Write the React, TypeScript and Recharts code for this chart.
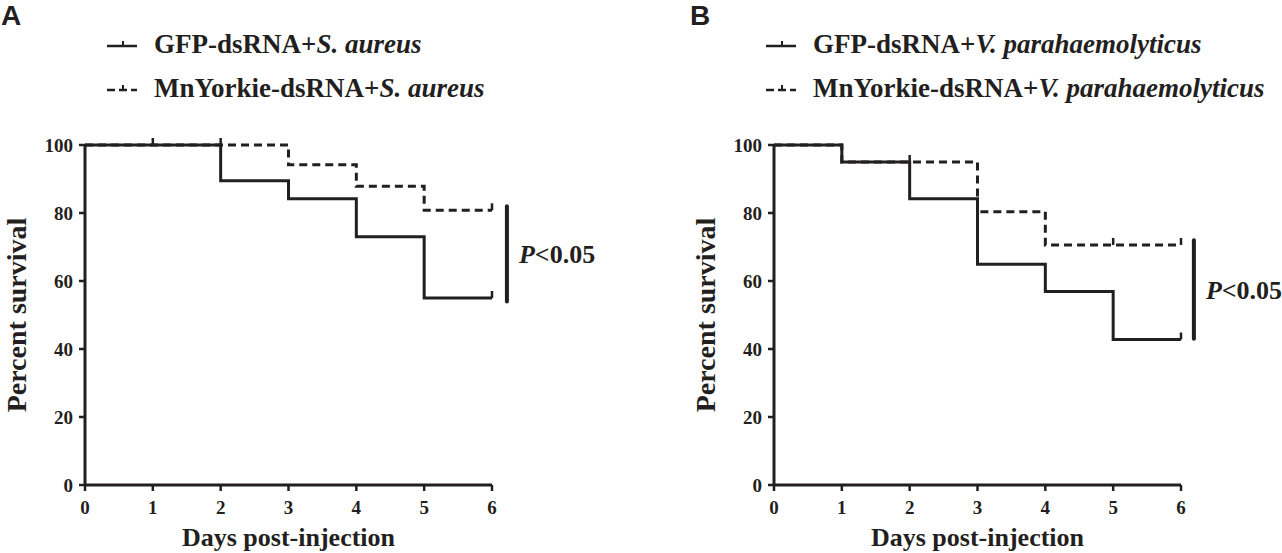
import React from 'react';
import {
  LineChart,
  Line,
  XAxis,
  YAxis,
  Legend,
  ReferenceLine,
} from 'recharts';

// days after injection (x axis)
const DAYS = [0, 1, 2, 3, 4, 5, 6];
const SURVIVAL_TICKS = [0, 20, 40, 60, 80, 100];

// panel A: S. aureus challenge, percent survival per day
const A_GFP = [100, 100, 89.5, 84.2, 73, 55, 55];
const A_YORKIE = [100, 100, 100, 94.2, 87.9, 80.8, 80.8];
const A_GFP_CENSOR = [1, 6];
const A_YORKIE_CENSOR = [2, 6];

// panel B: V. parahaemolyticus challenge
const B_GFP = [100, 95, 84.2, 64.9, 56.9, 42.8, 42.8];
const B_YORKIE = [100, 95, 95, 80.4, 70.6, 70.6, 70.6];
const B_GFP_CENSOR = [6];
const B_YORKIE_CENSOR = [2, 5, 6];

// significance bar: [x, yLow, yHigh]
const A_PBAR = [6.22, 54, 82];
const B_PBAR = [6.19, 43, 72];

const INK = '#231f20';
const SERIF = '"Liberation Serif", "Times New Roman", serif';

const censorDot = (days: number[]) => (props: any) => {
  const { cx, cy, payload, index } = props;
  if (!days.includes(payload.day) || cx == null) return <g key={`c-${index}`} />;
  return (
    <line
      key={`c-${index}`}
      x1={cx}
      x2={cx}
      y1={cy}
      y2={cy - 7}
      stroke={INK}
      strokeWidth={2.5}
    />
  );
};

const LegendContent = ({ payload }: any) => {
  const items = [...(payload || [])].sort((a, b) =>
    String(a.value).localeCompare(String(b.value))
  );
  return (
    <div style={{ fontFamily: SERIF, fontWeight: 'bold', fontSize: 27, color: INK }}>
      {items.map((item: any) => {
        const [host, pathogen] = String(item.value).split('+');
        const dashed = host.startsWith('MnYorkie');
        return (
          <div
            key={item.value}
            style={{ height: 44, display: 'flex', alignItems: 'center', whiteSpace: 'nowrap' }}
          >
            <svg width={30} height={16} style={{ marginRight: 17 }}>
              <line
                x1={0}
                x2={30}
                y1={10}
                y2={10}
                stroke={INK}
                strokeWidth={2.5}
                strokeDasharray={dashed ? '8 4' : undefined}
              />
              <line x1={16} x2={16} y1={10} y2={5} stroke={INK} strokeWidth={2} />
            </svg>
            <span>
              {host}+<i>{pathogen}</i>
            </span>
          </div>
        );
      })}
    </div>
  );
};

interface PanelProps {
  letter: string;
  left: number;
  width: number;
  legendLeft: number;
  gfp: number[];
  yorkie: number[];
  gfpCensor: number[];
  yorkieCensor: number[];
  pathogen: string;
  pBar: number[];
}

const Panel: React.FC<PanelProps> = ({
  letter,
  left,
  width,
  legendLeft,
  gfp,
  yorkie,
  gfpCensor,
  yorkieCensor,
  pathogen,
  pBar,
}) => {
  const data = DAYS.map((day, i) => ({ day, gfp: gfp[i], yorkie: yorkie[i] }));
  const tickStyle = { fill: INK, fontSize: 19, fontWeight: 'bold', fontFamily: SERIF };
  const titleStyle = { fill: INK, fontWeight: 'bold', fontFamily: SERIF };

  return (
    <div style={{ position: 'absolute', left, top: 0, width, height: 553 }}>
      <div
        style={{
          position: 'absolute',
          left: 1,
          top: 2,
          fontFamily: '"Liberation Sans", Arial, sans-serif',
          fontWeight: 'bold',
          fontSize: 28,
          lineHeight: '28px',
          color: INK,
        }}
      >
        {letter}
      </div>
      <LineChart
        width={width}
        height={553}
        data={data}
        margin={{ top: 145, right: width - 492, bottom: 38, left: 0 }}
      >
        <XAxis
          dataKey='day'
          type='number'
          domain={[0, 6]}
          ticks={DAYS}
          height={30}
          tickSize={6}
          tickMargin={10}
          tick={tickStyle}
          tickLine={{ stroke: INK, strokeWidth: 2.5 }}
          axisLine={{ stroke: INK, strokeWidth: 3 }}
          label={{
            value: 'Days post-injection',
            position: 'bottom',
            offset: 13,
            fontSize: 26,
            ...titleStyle,
          }}
        />
        <YAxis
          type='number'
          domain={[0, 100]}
          ticks={SURVIVAL_TICKS}
          width={85}
          tickSize={6}
          tickMargin={6}
          tick={tickStyle}
          tickLine={{ stroke: INK, strokeWidth: 2.5 }}
          axisLine={{ stroke: INK, strokeWidth: 3 }}
          label={{
            value: 'Percent survival',
            angle: -90,
            position: 'insideLeft',
            offset: 16,
            fontSize: 28,
            style: { textAnchor: 'middle' },
            ...titleStyle,
          }}
        />
        <Legend
          layout='vertical'
          verticalAlign='middle'
          align='center'
          content={<LegendContent />}
          wrapperStyle={{ top: 22, left: legendLeft, width: 560 }}
        />
        <Line
          dataKey='gfp'
          name={`GFP-dsRNA+${pathogen}`}
          type='stepAfter'
          stroke={INK}
          strokeWidth={3}
          dot={censorDot(gfpCensor)}
          activeDot={false}
          isAnimationActive={false}
        />
        <Line
          dataKey='yorkie'
          name={`MnYorkie-dsRNA+${pathogen}`}
          type='stepAfter'
          stroke={INK}
          strokeWidth={3}
          strokeDasharray='8 5'
          dot={censorDot(yorkieCensor)}
          activeDot={false}
          isAnimationActive={false}
        />
        <ReferenceLine
          segment={[
            { x: pBar[0], y: pBar[1] },
            { x: pBar[0], y: pBar[2] },
          ]}
          ifOverflow='visible'
          shape={(p: any) => (
            <g>
              <line
                x1={p.x1}
                x2={p.x2}
                y1={p.y1}
                y2={p.y2}
                stroke={INK}
                strokeWidth={4}
                strokeLinecap='round'
              />
              <text
                x={p.x1 + 12}
                y={(p.y1 + p.y2) / 2 + 9}
                fill={INK}
                fontSize={26}
                fontWeight='bold'
                fontFamily={SERIF}
              >
                <tspan fontStyle='italic'>P</tspan>
                <tspan>{'<0.05'}</tspan>
              </text>
            </g>
          )}
        />
      </LineChart>
    </div>
  );
};

const App: React.FC = () => {
  return (
    <div
      style={{
        position: 'absolute',
        left: 0,
        top: 0,
        width: 1282,
        height: 553,
        background: '#fff',
        overflow: 'hidden',
      }}
    >
      <Panel
        letter='A'
        left={0}
        width={660}
        legendLeft={107}
        gfp={A_GFP}
        yorkie={A_YORKIE}
        gfpCensor={A_GFP_CENSOR}
        yorkieCensor={A_YORKIE_CENSOR}
        pathogen='S. aureus'
        pBar={A_PBAR}
      />
      <Panel
        letter='B'
        left={689}
        width={593}
        legendLeft={77}
        gfp={B_GFP}
        yorkie={B_YORKIE}
        gfpCensor={B_GFP_CENSOR}
        yorkieCensor={B_YORKIE_CENSOR}
        pathogen='V. parahaemolyticus'
        pBar={B_PBAR}
      />
    </div>
  );
};

export default App;
